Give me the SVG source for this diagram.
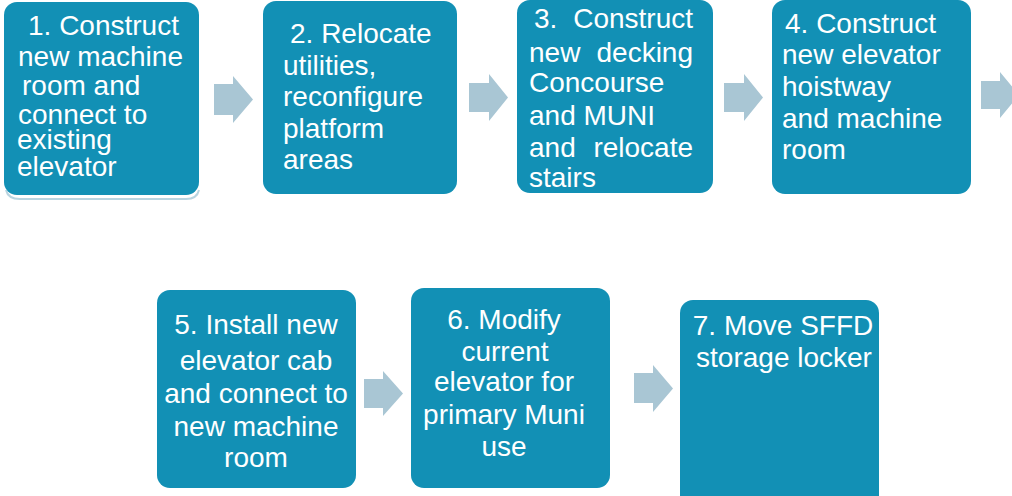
<svg xmlns="http://www.w3.org/2000/svg" width="1012" height="496" viewBox="0 0 1012 496">
<style>
.box{fill:#1290b5;}
.t{font-family:"Liberation Sans",Arial,sans-serif;font-size:28px;fill:#ffffff;}
.c{text-anchor:middle;}
.e{text-anchor:end;}
.arr{fill:#a9c6d4;}
</style>
<rect width="1012" height="496" fill="#ffffff"/>
<g id="connectors">
<polygon class="arr" points="214,84 233,84 233,76 253,99.5 233,123 233,115 214,115"/>
<polygon class="arr" points="469,83 489,83 489,74 508,97.5 489,121 489,112 469,112"/>
<polygon class="arr" points="724,83 744,83 744,74 763,97.5 744,121 744,112 724,112"/>
<polygon class="arr" points="981,81 1000,81 1000,72 1019,95 1000,118 1000,109 981,109"/>
<polygon class="arr" points="364,379 383,379 383,371 403,393.5 383,416 383,408 364,408"/>
<polygon class="arr" points="634,373 653,373 653,365 673,388.5 653,412 653,403 634,403"/>
</g>
<g id="node1">
<path d="M6,190 Q8,199 20,199 L186,199 Q197,199 199,190" fill="none" stroke="#b8d4e0" stroke-width="2"/>
<rect class="box" x="4" y="2" width="195" height="193" rx="13"/>
<text class="t" x="28" y="35">1. Construct</text>
<text class="t" x="18" y="66">new machine</text>
<text class="t" x="22" y="95">room and</text>
<text class="t" x="18" y="124">connect to</text>
<text class="t" x="17" y="149">existing</text>
<text class="t" x="17" y="176">elevator</text>
</g>
<g id="node2">
<rect class="box" x="263" y="1" width="194" height="193" rx="13"/>
<text class="t" x="290" y="43">2. Relocate</text>
<text class="t" x="283" y="75">utilities,</text>
<text class="t" x="283" y="106">reconfigure</text>
<text class="t" x="283" y="138">platform</text>
<text class="t" x="283" y="169">areas</text>
</g>
<g id="node3">
<rect class="box" x="517" y="0" width="196" height="193" rx="13"/>
<text class="t" x="534" y="28">3.</text>
<text class="t e" x="693" y="28">Construct</text>
<text class="t" x="529" y="62">new</text>
<text class="t e" x="693" y="62">decking</text>
<text class="t" x="529" y="92">Concourse</text>
<text class="t" x="529" y="125">and MUNI</text>
<text class="t" x="529" y="157">and</text>
<text class="t e" x="693" y="157">relocate</text>
<text class="t" x="529" y="187">stairs</text>
</g>
<g id="node4">
<rect class="box" x="772" y="0" width="199" height="194" rx="13"/>
<text class="t" x="785" y="33">4. Construct</text>
<text class="t" x="782" y="64">new elevator</text>
<text class="t" x="782" y="96">hoistway</text>
<text class="t" x="782" y="128">and machine</text>
<text class="t" x="782" y="159">room</text>
</g>
<g id="node5">
<rect class="box" x="157" y="290" width="199" height="198" rx="13"/>
<text class="t c" x="256" y="334">5. Install new</text>
<text class="t c" x="256" y="370">elevator cab</text>
<text class="t c" x="256" y="403">and connect to</text>
<text class="t c" x="256" y="436">new machine</text>
<text class="t c" x="256" y="467">room</text>
</g>
<g id="node6">
<rect class="box" x="411" y="288" width="199" height="200" rx="13"/>
<text class="t c" x="504" y="329">6. Modify</text>
<text class="t c" x="505" y="361">current</text>
<text class="t c" x="504" y="391">elevator for</text>
<text class="t c" x="504" y="424">primary Muni</text>
<text class="t c" x="504" y="456">use</text>
</g>
<g id="node7">
<rect class="box" x="680" y="300" width="199" height="210" rx="13"/>
<text class="t c" x="783" y="335">7. Move SFFD</text>
<text class="t c" x="784" y="367">storage locker</text>
</g>
</svg>
